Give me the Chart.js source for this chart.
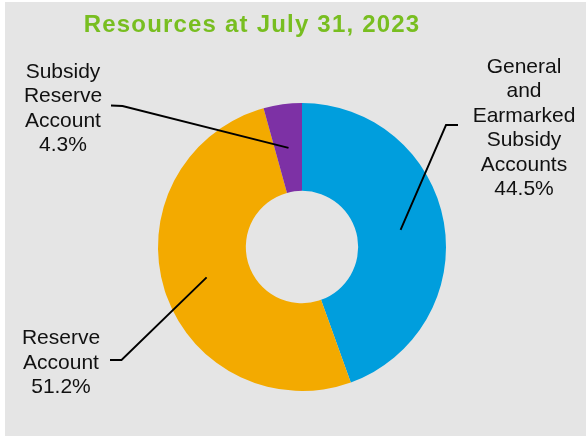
<!DOCTYPE html>
<html>
<head>
<meta charset="utf-8">
<script src="https://cdn.jsdelivr.net/npm/chart.js@4"></script>
<style>
  html, body { margin: 0; padding: 0; background: #ffffff; }
  canvas { display: block; }
</style>
</head>
<body>
<canvas id="myChart" width="586" height="436"></canvas>
<script>
const categories = [
  'General and Earmarked Subsidy Accounts',
  'Reserve Account',
  'Subsidy Reserve Account'
];
const shares = [44.5, 51.2, 4.3];
const labelLines = [
  ['General', 'and', 'Earmarked', 'Subsidy', 'Accounts', '44.5%'],
  ['Reserve', 'Account', '51.2%'],
  ['Subsidy', 'Reserve', 'Account', '4.3%']
];
const sliceColors = ['#009edd', '#f3aa00', '#7d31a5'];
const titleText = 'Resources at July 31, 2023';

// where each label sits and where its leader line bends
const labelPlacement = [
  { x: 524, y: 72.5, elbow: [446, 125], end: [458, 125] },
  { x: 61, y: 344, elbow: [121.5, 360], end: [110, 360] },
  { x: 63, y: 77.5, elbow: [122.5, 106], end: [111, 105.5] }
];

const backdrop = {
  id: 'backdrop',
  beforeDraw(chart) {
    const ctx = chart.ctx;
    ctx.save();
    ctx.fillStyle = '#ffffff';
    ctx.fillRect(0, 0, chart.width, chart.height);
    ctx.fillStyle = '#e5e5e5';
    ctx.fillRect(5, 2, chart.width - 5, chart.height - 2);
    ctx.restore();
  }
};

const callouts = {
  id: 'callouts',
  afterDatasetsDraw(chart) {
    const ctx = chart.ctx;
    const arcs = chart.getDatasetMeta(0).data;
    ctx.save();

    // title
    ctx.fillStyle = '#78be20';
    ctx.font = 'bold 24px "Liberation Sans", Arial, sans-serif';
    ctx.letterSpacing = '1.2px';
    ctx.textAlign = 'center';
    ctx.textBaseline = 'alphabetic';
    ctx.fillText(titleText, 252, 32);
    ctx.letterSpacing = '0px';

    arcs.forEach((arc, i) => {
      const p = labelPlacement[i];
      const a = arc.tooltipPosition();
      ctx.strokeStyle = '#000000';
      ctx.lineWidth = 1.9;
      ctx.beginPath();
      ctx.moveTo(a.x, a.y);
      ctx.lineTo(p.elbow[0], p.elbow[1]);
      ctx.lineTo(p.end[0], p.end[1]);
      ctx.stroke();

      ctx.fillStyle = '#111111';
      ctx.font = '21px "Liberation Sans", Arial, sans-serif';
      ctx.textAlign = 'center';
      labelLines[i].forEach((t, k) => {
        ctx.fillText(t, p.x, p.y + k * 24.5);
      });
    });
    ctx.restore();
  }
};

new Chart(document.getElementById('myChart'), {
  type: 'doughnut',
  data: {
    labels: categories,
    datasets: [{
      data: shares,
      backgroundColor: sliceColors,
      borderWidth: 0,
      hoverOffset: 0
    }]
  },
  options: {
    responsive: false,
    animation: false,
    cutout: '39%',
    layout: {
      padding: { left: 158, right: 140, top: 103, bottom: 45 }
    },
    plugins: {
      legend: { display: false },
      tooltip: { enabled: false },
      title: { display: false }
    }
  },
  plugins: [backdrop, callouts]
});
</script>
</body>
</html>
